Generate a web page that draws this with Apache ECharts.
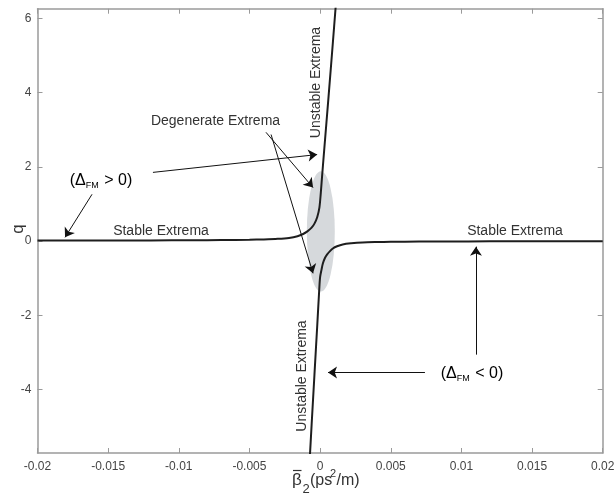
<!DOCTYPE html>
<html>
<head>
<meta charset="utf-8">
<script src="https://cdn.jsdelivr.net/npm/echarts@6/dist/echarts.min.js"></script>
<style>
html, body {margin: 0; padding: 0; background: #fff;}
#chart {width: 615px; height: 498px;}
</style>
</head>
<body>
<div id="chart"></div>
<script>
// tick values
var x_ticks = [-0.02, -0.015, -0.01, -0.005, 0, 0.005, 0.01, 0.015, 0.02];
var y_ticks = [-4, -2, 0, 2, 4, 6];

// branch with q > 0 on the left, rising steeply just right of zero
var upper_branch = [
    [-0.02, 0.012], [-0.016, 0.014], [-0.012, 0.018], [-0.009, 0.022],
    [-0.007, 0.028], [-0.005, 0.036], [-0.004, 0.045], [-0.003, 0.06],
    [-0.0022, 0.085], [-0.0016, 0.13], [-0.0012, 0.19], [-0.0009, 0.26],
    [-0.0006, 0.36], [-0.0004, 0.47], [-0.0002, 0.65], [-0.00005, 0.9],
    [0.00005, 1.3], [0.00012, 1.65], [0.0003, 2.5], [0.0006, 3.9],
    [0.0009, 5.33], [0.00112, 6.4]
];
// branch with q < 0 on the right, dropping steeply just left of zero
var lower_branch = [
    [0.02, -0.004], [0.016, -0.006], [0.012, -0.008], [0.009, -0.011],
    [0.007, -0.015], [0.005, -0.02], [0.004, -0.026], [0.003, -0.037],
    [0.0022, -0.06], [0.0016, -0.09], [0.0012, -0.14], [0.0009, -0.2],
    [0.0007, -0.27], [0.0005, -0.36], [0.00035, -0.45], [0.0002, -0.6],
    [0.0001, -0.77], [0.0, -0.97], [-0.00006, -1.3], [-0.0002, -2.26],
    [-0.0004, -3.6], [-0.0006, -4.95], [-0.00075, -5.98]
];

// annotation arrows: [from, to] in data units
var arrows = [
    [[-0.01183, 1.85], [-0.00021, 2.33]],
    [[-0.01614, 1.26], [-0.01805, 0.10]],
    [[-0.00383, 2.93], [-0.0005, 1.44]],
    [[-0.00347, 2.87], [-0.0005, -0.87]],
    [[0.00742, -3.54], [0.00056, -3.54]],
    [[0.01103, -3.06], [0.01103, -0.15]]
];

var FONT = '"Liberation Sans", Arial, sans-serif';
var AXIS_GRAY = '#9a9a9a';
var TEXT = '#333';

var chart_el = document.getElementById('chart');
var chart = echarts.init(chart_el, null, {renderer: 'canvas'});

var x_min = -0.02, x_max = 0.02, y_min = -5.71, y_max = 6.26;

function axis_base(extra) {
    return Object.assign({
        type: 'value',
        axisLine: {show: true, onZero: false, lineStyle: {color: AXIS_GRAY, width: 1.5}},
        axisTick: {show: true, inside: true, length: 5, lineStyle: {color: AXIS_GRAY, width: 1}},
        splitLine: {show: false},
        axisLabel: {show: false}
    }, extra);
}

var option = {
    animation: false,
    textStyle: {fontFamily: FONT},
    grid: {left: 37.5, right: 12.3, top: 8.7, bottom: 45, outerBoundsMode: 'none'},
    xAxis: [
        axis_base({
            min: x_min, max: x_max, interval: 0.005, position: 'bottom',
            axisLabel: {show: true, color: '#444', fontSize: 12, margin: 8, fontFamily: FONT}
        }),
        axis_base({min: x_min, max: x_max, interval: 0.005, position: 'top'})
    ],
    yAxis: [
        axis_base({
            min: y_min, max: y_max, position: 'left',
            axisTick: {show: true, inside: true, length: 5, customValues: y_ticks, lineStyle: {color: AXIS_GRAY}},
            axisLabel: {show: true, color: '#444', fontSize: 12, margin: 6, fontFamily: FONT, customValues: y_ticks}
        }),
        axis_base({
            min: y_min, max: y_max, position: 'right',
            axisTick: {show: true, inside: true, length: 5, customValues: y_ticks, lineStyle: {color: AXIS_GRAY}}
        })
    ],
    series: [
        {
            type: 'line', data: upper_branch, showSymbol: false, smooth: 0.3,
            lineStyle: {color: '#1e1e1e', width: 2}, z: 3
        },
        {
            type: 'line', data: lower_branch, showSymbol: false, smooth: 0.3,
            lineStyle: {color: '#1e1e1e', width: 2}, z: 3
        },
        {
            type: 'line', data: [], silent: true,
            markLine: {
                silent: true, animation: false,
                symbol: ['none', 'arrow'], symbolSize: 9,
                itemStyle: {color: '#111'},
                lineStyle: {color: '#111', width: 1, type: 'solid'},
                label: {show: false},
                emphasis: {disabled: true},
                data: arrows.map(a => [{coord: a[0]}, {coord: a[1]}])
            }
        }
    ]
};
chart.setOption(option);

// gray ellipse around the two degenerate points
var c = chart.convertToPixel({gridIndex: 0}, [0.00005, 0.26]);
var edge = chart.convertToPixel({gridIndex: 0}, [0.00104, 0.26 + 1.62]);
var rx = edge[0] - c[0], ry = c[1] - edge[1];

function txt(x, y, text, size, extra) {
    return {
        type: 'text', x: x, y: y, z: 50,
        style: Object.assign({text: text, fill: TEXT, font: size + 'px ' + FONT, align: 'center', verticalAlign: 'middle'}, extra || {})
    };
}

var delta_rich = {
    a: {fontSize: 16, fontFamily: FONT, color: TEXT},
    s: {fontSize: 9, fontFamily: FONT, color: TEXT, padding: [10, 1, 0, 0]}
};

chart.setOption({
    graphic: [
        {
            type: 'circle', x: c[0], y: c[1], scaleX: rx / ry, z: 1,
            shape: {cx: 0, cy: 0, r: ry},
            style: {fill: '#d6d9dc'}
        },
        txt(215.5, 121, 'Degenerate Extrema', 14),
        txt(161, 231, 'Stable Extrema', 14),
        txt(515, 231, 'Stable Extrema', 14),
        Object.assign(txt(316.5, 82.5, 'Unstable Extrema', 14), {rotation: Math.PI / 2}),
        Object.assign(txt(302, 376, 'Unstable Extrema', 14), {rotation: Math.PI / 2}),
        {
            type: 'text', x: 101, y: 181, z: 50,
            style: {text: '{a|(Δ}{s|FM}{a| > 0)}', rich: delta_rich, align: 'center', verticalAlign: 'middle'}
        },
        {
            type: 'text', x: 472, y: 374, z: 50,
            style: {text: '{a|(Δ}{s|FM}{a| < 0)}', rich: delta_rich, align: 'center', verticalAlign: 'middle'}
        },
        // y axis title
        Object.assign(txt(18, 229, 'q', 17), {rotation: Math.PI / 2}),
        // x axis title, beta bar sub 2 (ps^2/m)
        txt(292, 480, 'β', 17, {align: 'left'}),
        {type: 'line', z: 50, shape: {x1: 293, y1: 470.5, x2: 301.5, y2: 470.5}, style: {stroke: TEXT, lineWidth: 1.2}},
        txt(302.5, 489, '2', 13, {align: 'left'}),
        txt(310, 481, '(ps', 16, {align: 'left'}),
        txt(330, 474, '2', 11, {align: 'left'}),
        txt(336.5, 481, '/m)', 16, {align: 'left'})
    ]
});
</script>
</body>
</html>
